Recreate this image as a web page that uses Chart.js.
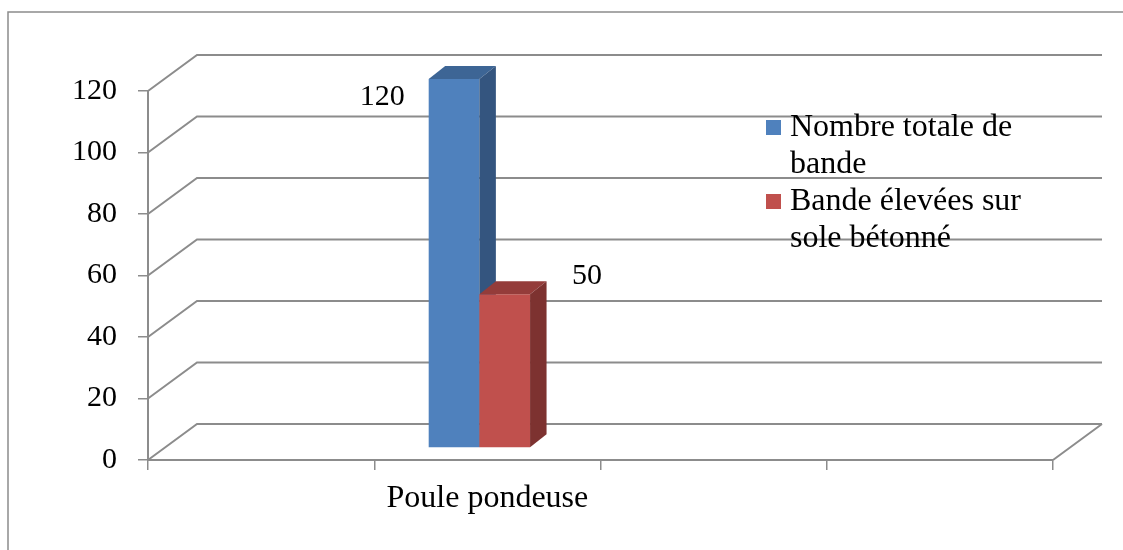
<!DOCTYPE html>
<html lang="fr">
<head>
<meta charset="UTF-8">
<title>Poule pondeuse</title>
<style>
  body { margin: 0; background: #fff; }
  #wrap { width: 1123px; height: 550px; }
</style>
<script src="https://cdn.jsdelivr.net/npm/chart.js"></script>
</head>
<body>
<div id="wrap"><canvas id="chart" width="1123" height="550"></canvas></div>
<script>
// données
const categories = ['', 'Poule pondeuse', '', ''];
const totalBandes = [null, 120, null, null];
const bandesBeton = [null, 50, null, null];
const seriesNames = [['Nombre totale de', 'bande'], ['Bande élevées sur', 'sole bétonné']];
const yTicks = [0, 20, 40, 60, 80, 100, 120];

const FONT = 'Liberation Serif';
const GRAY = '#8c8c8c';
const WALL = { dx: 49, dy: -36 };      // profondeur du mur du fond
const SHIFT = { dx: -8, dy: -12 };     // face avant des barres
const SIDE = { dx: 16.5, dy: -13 };    // épaisseur des barres

// cadre + murs (grille du fond, diagonales)
const frame3d = {
    id: 'frame3d',
    beforeDraw(chart) {
        const ctx = chart.ctx;
        ctx.save();
        ctx.strokeStyle = GRAY;
        ctx.lineWidth = 1.5;
        ctx.strokeRect(8, 12, chart.width + 20, chart.height + 20);
        ctx.restore();
    },
    beforeDatasetsDraw(chart) {
        const ctx = chart.ctx;
        const { left, right, bottom } = chart.chartArea;
        const y = chart.scales.y;
        ctx.save();
        ctx.strokeStyle = GRAY;
        ctx.lineWidth = 2;
        ctx.beginPath();
        yTicks.forEach(v => {
            const py = y.getPixelForValue(v);
            ctx.moveTo(left, py);
            ctx.lineTo(left + WALL.dx, py + WALL.dy);
            ctx.lineTo(right + WALL.dx, py + WALL.dy);
        });
        ctx.moveTo(right, bottom);
        ctx.lineTo(right + WALL.dx, bottom + WALL.dy);
        ctx.stroke();
        ctx.restore();
    },
    beforeDatasetDraw() {
        return false; // les barres sont dessinées en 3D plus bas
    },
    afterDatasetsDraw(chart) {
        const ctx = chart.ctx;
        chart.data.datasets.forEach((ds, i) => {
            const meta = chart.getDatasetMeta(i);
            meta.data.forEach((bar, j) => {
                if (ds.data[j] == null) return;
                const p = bar.getProps(['x', 'y', 'base', 'width'], true);
                const x0 = p.x - p.width / 2 + SHIFT.dx;
                const x1 = x0 + p.width;
                const top = p.y + SHIFT.dy;
                const base = p.base + SHIFT.dy;

                ctx.save();
                ctx.translate(SHIFT.dx, SHIFT.dy);
                bar.draw(ctx);
                ctx.restore();

                ctx.save();
                ctx.fillStyle = ds.topColor;
                ctx.beginPath();
                ctx.moveTo(x0, top);
                ctx.lineTo(x1, top);
                ctx.lineTo(x1 + SIDE.dx, top + SIDE.dy);
                ctx.lineTo(x0 + SIDE.dx, top + SIDE.dy);
                ctx.closePath();
                ctx.fill();

                ctx.fillStyle = ds.sideColor;
                ctx.beginPath();
                ctx.moveTo(x1, top);
                ctx.lineTo(x1 + SIDE.dx, top + SIDE.dy);
                ctx.lineTo(x1 + SIDE.dx, base + SIDE.dy);
                ctx.lineTo(x1, base);
                ctx.closePath();
                ctx.fill();

                // étiquette de valeur
                ctx.fillStyle = '#000';
                ctx.font = '30px "' + FONT + '"';
                ctx.textBaseline = 'middle';
                const lo = ds.labelOffset;
                if (lo.dx < 0) {
                    ctx.textAlign = 'right';
                    ctx.fillText(ds.data[j], x0 + lo.dx, top + lo.dy);
                } else {
                    ctx.textAlign = 'left';
                    ctx.fillText(ds.data[j], x1 + lo.dx, top + lo.dy);
                }
                ctx.restore();
            });
        });
    },
    afterDraw(chart) {
        // légende à droite, texte sur deux lignes
        const ctx = chart.ctx;
        let base = 136;
        ctx.save();
        ctx.font = '32px "' + FONT + '"';
        ctx.textBaseline = 'alphabetic';
        ctx.textAlign = 'left';
        chart.data.datasets.forEach(ds => {
            ctx.fillStyle = ds.backgroundColor;
            ctx.fillRect(766, base - 16, 15, 15);
            ctx.fillStyle = '#000';
            ds.label.forEach(line => {
                ctx.fillText(line, 790, base);
                base += 37;
            });
        });
        ctx.restore();
    }
};

new Chart(document.getElementById('chart'), {
    type: 'bar',
    data: {
        labels: categories,
        datasets: [{
            label: seriesNames[0],
            data: totalBandes,
            backgroundColor: '#4f81bd',
            topColor: '#3d6595',
            sideColor: '#34557f',
            labelOffset: { dx: -24, dy: 18 }
        }, {
            label: seriesNames[1],
            data: bandesBeton,
            backgroundColor: '#c0504d',
            topColor: '#943c3a',
            sideColor: '#7d3230',
            labelOffset: { dx: 42, dy: -18 }
        }]
    },
    options: {
        responsive: false,
        animation: false,
        devicePixelRatio: 1,
        layout: { padding: { top: 91, right: 70, left: 0, bottom: 0 } },
        datasets: {
            bar: { categoryPercentage: 0.448, barPercentage: 1, borderWidth: 0 }
        },
        plugins: {
            legend: { display: false },
            tooltip: { enabled: false }
        },
        scales: {
            x: {
                offset: true,
                grid: { offset: true, drawOnChartArea: false, tickLength: 10, color: GRAY, lineWidth: 1.5 },
                border: { display: true, color: GRAY, width: 2 },
                ticks: { color: '#000', font: { family: FONT, size: 32 }, padding: 9, maxRotation: 0, autoSkip: false },
                afterFit: s => { s.height = 90; }
            },
            y: {
                min: yTicks[0],
                max: yTicks[yTicks.length - 1],
                ticks: { stepSize: 20, color: '#000', font: { family: FONT, size: 30 }, padding: 21 },
                grid: { drawOnChartArea: false, tickLength: 10, color: GRAY, lineWidth: 1.5 },
                border: { display: true, color: GRAY, width: 2 },
                afterFit: s => { s.width = 148; }
            }
        }
    },
    plugins: [frame3d]
});
</script>
</body>
</html>
